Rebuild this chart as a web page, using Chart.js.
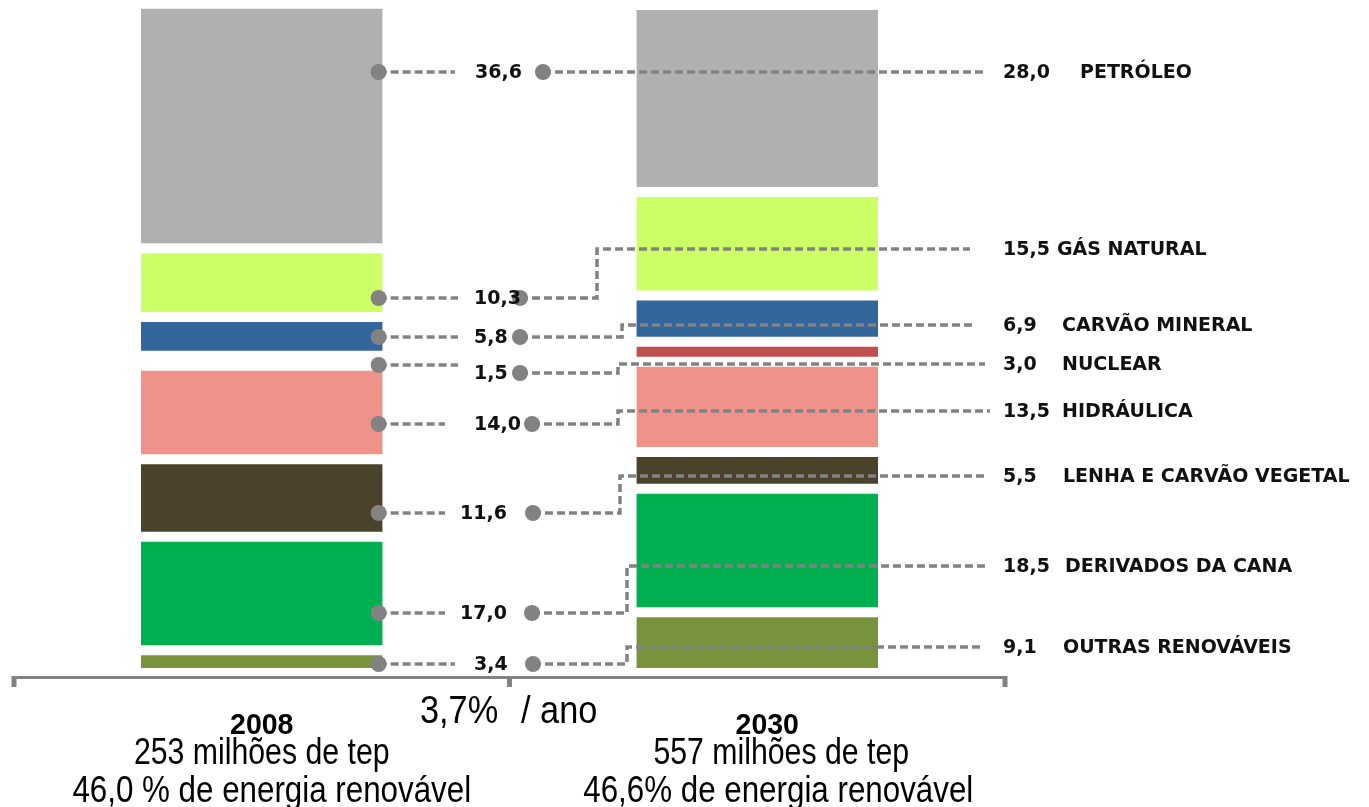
<!DOCTYPE html>
<html>
<head>
<meta charset="utf-8">
<script src="https://cdn.jsdelivr.net/npm/chart.js@4/dist/chart.umd.min.js"></script>
<style>
    html, body { margin: 0; padding: 0; background: #fff; overflow: hidden; }
    canvas { display: block; }
</style>
</head>
<body>
<canvas id="matriz" width="1369" height="807"></canvas>
<script>
// Matriz energética: 2008 x 2030 (%), bottom to top
const categories = ["2008", "2030"];
const sources = [
    "OUTRAS RENOVÁVEIS",
    "DERIVADOS DA CANA",
    "LENHA E CARVÃO VEGETAL",
    "HIDRÁULICA",
    "NUCLEAR",
    "CARVÃO MINERAL",
    "GÁS NATURAL",
    "PETRÓLEO",
];
const share2008 = [3.4, 17.0, 11.6, 14.0, 1.5, 5.8, 10.3, 36.6];
const share2030 = [9.1, 18.5, 5.5, 13.5, 3.0, 6.9, 15.5, 28.0];
const valueText2008 = ["3,4", "17,0", "11,6", "14,0", "1,5", "5,8", "10,3", "36,6"];
const valueText2030 = ["9,1", "18,5", "5,5", "13,5", "3,0", "6,9", "15,5", "28,0"];
const footer2008 = ["2008", "253 milhões de tep", "46,0 % de energia renovável"];
const footer2030 = ["2030", "557 milhões de tep", "46,6% de energia renovável"];
const growthText = ["3,7%", "/ ano"];

const colors = ["#77933c", "#00b050", "#4a422b", "#ee928a", "#c0504d", "#33669a", "#ccff66", "#b0b0b0"];

// leader layout (y in axis units, x in pixels)
const leftDotY = [1.35, 8.98, 23.95, 37.28, 46.11, 50.3, 56.14, 89.97];
const rowY = [1.35, 8.98, 23.95, 37.28, 44.91, 50.3, 56.14, 89.97];
const labelY2030 = [3.89, 16.02, 29.49, 39.22, 46.26, 52.1, 63.47, 89.97];
const leftLineEnd = [455, 445, 445, 445, 458, 458, 458, 455];
const valueX2008 = [474, 460, 460, 474, 474, 474, 474, 475];
const rightDotX = [533, 532, 533, 532, 520, 520, 520, 543];
const elbowX = [627, 627, 620, 618, 618, 622, 597, 600];
const rightLineEnd = [980, 985, 985, 990, 985, 975, 970, 985];
const nameX = [1063, 1065, 1063, 1062, 1062, 1062, 1057, 1080];

const GREY = "#828282";

const drawScaled = (ctx, text, x, y, sx, align) => {
    ctx.save();
    ctx.translate(x, y);
    ctx.scale(sx, 1);
    ctx.textAlign = align;
    ctx.fillText(text, 0, 0);
    ctx.restore();
};

const annotations = {
    id: "annotations",
    afterDatasetsDraw(chart) {
        const ctx = chart.ctx;
        const y = chart.scales.y;
        const x = chart.scales.x;
        const area = chart.chartArea;
        const bar08 = chart.getDatasetMeta(0).data[0];
        const dotX = bar08.x + bar08.width / 2 - 4;

        ctx.save();
        ctx.strokeStyle = GREY;
        ctx.fillStyle = GREY;
        ctx.lineWidth = 3.5;
        ctx.setLineDash([8, 4]);

        sources.forEach((name, i) => {
            const yl = y.getPixelForValue(leftDotY[i]);
            const yr = y.getPixelForValue(rowY[i]);
            const y2 = y.getPixelForValue(labelY2030[i]);

            ctx.beginPath();
            ctx.moveTo(dotX, yl);
            ctx.lineTo(leftLineEnd[i], yl);
            ctx.stroke();

            ctx.beginPath();
            ctx.moveTo(rightDotX[i], yr);
            if (Math.abs(y2 - yr) > 2) {
                ctx.lineTo(elbowX[i], yr);
                ctx.lineTo(elbowX[i], y2);
            }
            ctx.lineTo(rightLineEnd[i], y2);
            ctx.stroke();
        });

        ctx.setLineDash([]);
        sources.forEach((name, i) => {
            ctx.beginPath();
            ctx.arc(dotX, y.getPixelForValue(leftDotY[i]), 8, 0, Math.PI * 2);
            ctx.fill();
            ctx.beginPath();
            ctx.arc(rightDotX[i], y.getPixelForValue(rowY[i]), 8, 0, Math.PI * 2);
            ctx.fill();
        });

        // value and name labels
        ctx.fillStyle = "#111";
        ctx.textBaseline = "middle";
        ctx.font = "bold 19px 'DejaVu Sans'";
        sources.forEach((name, i) => {
            ctx.textAlign = "left";
            ctx.fillText(valueText2008[i], valueX2008[i], y.getPixelForValue(rowY[i]) + 1);
            const y2 = y.getPixelForValue(labelY2030[i]) + 1;
            ctx.fillText(valueText2030[i], 1003, y2);
            ctx.fillText(name, nameX[i], y2);
        });

        // bracket under the bars
        const mid = (x.getPixelForValue(0) + x.getPixelForValue(1)) / 2;
        const base = area.bottom + 3;
        ctx.fillStyle = GREY;
        ctx.fillRect(area.left - 2, base, area.right - area.left + 4, 3);
        [area.left, mid, area.right].forEach((px) => {
            ctx.fillRect(px - 2.5, base, 5, 11);
        });

        // footer
        ctx.fillStyle = "#000";
        const c08 = x.getPixelForValue(0);
        const c30 = x.getPixelForValue(1);
        ctx.font = "bold 30px 'Liberation Sans'";
        drawScaled(ctx, footer2008[0], c08, 726, 0.95, "center");
        drawScaled(ctx, footer2030[0], c30 + 10, 726, 0.95, "center");
        ctx.font = "36px 'Liberation Sans'";
        drawScaled(ctx, footer2008[1], c08, 754, 0.84, "center");
        drawScaled(ctx, footer2030[1], c30 + 24, 754, 0.84, "center");
        drawScaled(ctx, footer2008[2], c08 + 10, 792, 0.87, "center");
        drawScaled(ctx, footer2030[2], c30 + 21, 792, 0.87, "center");
        ctx.font = "39px 'Liberation Sans'";
        drawScaled(ctx, growthText[0], 420, 712, 0.88, "left");
        drawScaled(ctx, growthText[1], 521, 712, 0.88, "left");
        ctx.restore();
    },
};

new Chart(document.getElementById("matriz").getContext("2d"), {
    type: "bar",
    data: {
        labels: categories,
        datasets: sources.map((name, i) => ({
            label: name,
            data: [share2008[i], share2030[i]],
            backgroundColor: colors[i],
            borderColor: "#ffffff",
            borderWidth: { top: 5, bottom: 5, left: 0, right: 0 },
            borderSkipped: false,
            barPercentage: 0.488,
            categoryPercentage: 1,
            clip: false,
        })),
    },
    options: {
        responsive: false,
        animation: false,
        devicePixelRatio: 1,
        layout: { padding: { left: 14, right: 364, top: 5, bottom: 134 } },
        plugins: { legend: { display: false }, tooltip: { enabled: false } },
        scales: {
            x: { stacked: true, display: false },
            y: { stacked: true, display: false, min: 0, max: 100 },
        },
    },
    plugins: [annotations],
});
</script>
</body>
</html>
